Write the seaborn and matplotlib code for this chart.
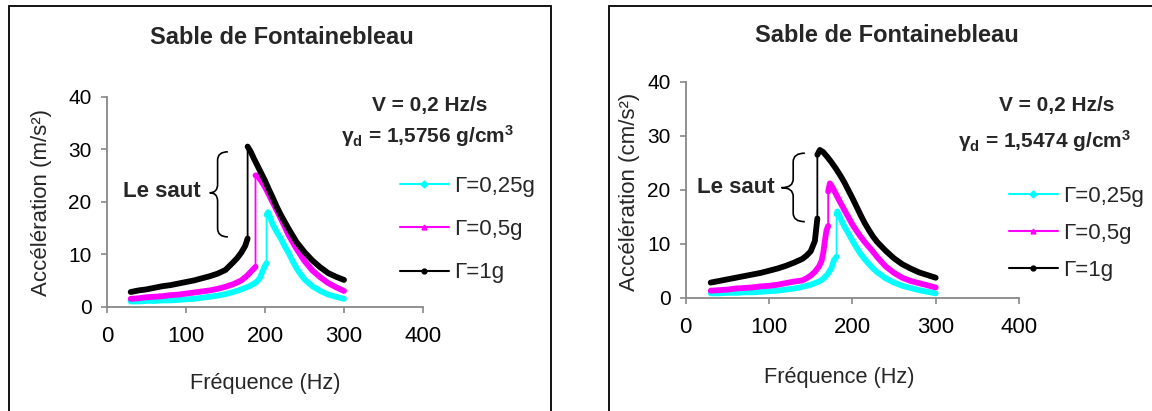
import matplotlib
matplotlib.use("Agg")
import matplotlib.pyplot as plt
import seaborn as sns
import numpy as np
import pandas as pd
from matplotlib.lines import Line2D
from matplotlib.patches import Rectangle, PathPatch
from matplotlib.path import Path

sns.set_theme(style="white")
plt.rcParams['font.family'] = ['Liberation Sans', 'DejaVu Sans']
plt.rcParams['mathtext.default'] = 'regular'

# ---------------- data ----------------
# Left panel  (m/s²),  γd = 1,5756
L_f_025 = [30, 40, 50, 60, 70, 80, 90, 100, 110, 120, 130, 140, 150, 160, 170, 180, 185, 190, 194, 197, 200, 202,
           202, 204, 207, 210, 215, 220, 225, 230, 235, 240, 245, 250, 260, 270, 280, 290, 300]
L_a_025 = [1.0, 1.0, 1.1, 1.1, 1.2, 1.2, 1.3, 1.4, 1.5, 1.7, 1.9, 2.1, 2.4, 2.8, 3.3, 3.9, 4.3, 4.8, 5.6, 6.8, 7.8, 8.3,
           17.5, 18.0, 16.8, 15.6, 14.2, 13.0, 11.5, 10.2, 8.7, 7.3, 6.2, 5.2, 3.9, 3.0, 2.3, 1.9, 1.5]

L_f_05 = [30, 40, 50, 60, 70, 80, 90, 100, 110, 120, 130, 140, 150, 160, 170, 178, 183, 188,
          188, 190, 195, 200, 205, 210, 215, 220, 230, 240, 250, 260, 270, 280, 290, 300]
L_a_05 = [1.5, 1.6, 1.8, 1.9, 2.0, 2.2, 2.3, 2.5, 2.7, 2.9, 3.1, 3.4, 3.8, 4.3, 5.0, 6.0, 6.8, 7.6,
          25.0, 25.0, 24.0, 22.8, 21.3, 19.8, 18.3, 16.8, 13.6, 11.0, 8.7, 6.9, 5.6, 4.5, 3.7, 3.0]

L_f_1 = [30, 40, 50, 60, 70, 80, 90, 100, 110, 120, 130, 140, 150, 160, 165, 170, 175, 178,
         178, 182, 186, 190, 195, 200, 205, 210, 215, 220, 230, 240, 250, 260, 270, 280, 290, 300]
L_a_1 = [2.8, 3.1, 3.3, 3.6, 3.9, 4.1, 4.4, 4.7, 5.0, 5.4, 5.8, 6.3, 7.0, 8.5, 9.3, 10.3, 11.6, 13.0,
         30.5, 29.5, 28.2, 27.0, 25.5, 24.0, 22.3, 20.7, 19.0, 17.5, 14.8, 12.3, 10.4, 8.8, 7.5, 6.4, 5.7, 5.1]

# Right panel (cm/s²),  γd = 1,5474
R_f_025 = [30, 40, 50, 60, 70, 80, 90, 100, 110, 120, 130, 140, 150, 160, 165, 170, 175, 178, 181,
           181, 182, 185, 190, 195, 200, 205, 210, 215, 220, 225, 230, 240, 250, 260, 270, 280, 290, 300]
R_a_025 = [0.8, 0.8, 0.9, 0.9, 1.0, 1.0, 1.1, 1.2, 1.3, 1.5, 1.7, 2.0, 2.4, 3.0, 3.5, 4.3, 5.5, 7.0, 7.6,
           15.5, 16.0, 15.0, 13.3, 12.0, 10.6, 9.3, 8.1, 7.1, 6.2, 5.4, 4.7, 3.6, 2.8, 2.2, 1.8, 1.4, 1.1, 0.8]

R_f_05 = [30, 40, 50, 60, 70, 80, 90, 100, 110, 120, 130, 140, 145, 150, 155, 160, 163, 165, 167, 169, 171,
          171, 173, 176, 180, 185, 190, 195, 200, 205, 210, 215, 220, 225, 230, 240, 250, 260, 270, 280, 290, 300]
R_a_05 = [1.3, 1.4, 1.5, 1.7, 1.8, 1.9, 2.1, 2.2, 2.4, 2.7, 3.0, 3.2, 3.6, 4.1, 4.8, 5.8, 6.8, 8.2, 10.5, 12.5, 13.3,
          19.7, 21.2, 20.5, 19.3, 17.8, 16.4, 15.0, 13.6, 12.4, 11.3, 10.3, 9.4, 8.5, 7.5, 5.8, 4.6, 3.7, 3.1, 2.7, 2.3, 1.9]

R_f_1 = [30, 40, 50, 60, 70, 80, 90, 100, 110, 120, 130, 140, 145, 150, 155, 158,
         158, 161, 165, 170, 175, 180, 185, 190, 195, 200, 205, 210, 215, 220, 225, 230, 240, 250, 260, 270, 280, 290, 300]
R_a_1 = [2.8, 3.1, 3.4, 3.7, 4.0, 4.3, 4.6, 5.0, 5.4, 5.9, 6.5, 7.2, 7.8, 8.6, 10.5, 14.7,
         26.5, 27.4, 27.0, 26.1, 25.1, 24.0, 22.8, 21.5, 20.0, 18.5, 16.9, 15.3, 13.8, 12.5, 11.3, 10.3, 8.7, 7.3, 6.2, 5.4, 4.7, 4.2, 3.7]

labels = ["Γ=0,25g", "Γ=0,5g", "Γ=1g"]
colors = ["#00FFFF", "#FF00FF", "#000000"]
markers = ["D", "^", "o"]
x_ticks = [0, 100, 200, 300, 400]
y_ticks = [0, 10, 20, 30, 40]
title = "Sable de Fontainebleau"
xlabel = "Fréquence (Hz)"
ylabels = ["Accélération (m/s²)", "Accélération (cm/s²)"]
gammas = ["1,5756", "1,5474"]

W, H = 1152, 411
fig = plt.figure(figsize=(W / 100, H / 100), dpi=100)
fig.patch.set_facecolor("white")

def fx(px):
    return px / W

def fy(py):
    return 1 - py / H

# frames around each chart
fig.add_artist(Rectangle((fx(9), -0.1), fx(551) - fx(9), fy(6) + 0.1, transform=fig.transFigure,
                         fill=False, ec="black", lw=1.3))
fig.add_artist(Rectangle((fx(609), -0.1), 0.6, fy(6) + 0.1, transform=fig.transFigure,
                         fill=False, ec="black", lw=1.3))

panels = [
    dict(rect=[fx(107), fy(306.7), fx(423) - fx(107), fy(96.7) - fy(306.7)],
         data=[(L_f_025, L_a_025), (L_f_05, L_a_05), (L_f_1, L_a_1)],
         title_xy=(282, 37), xl_xy=(265, 383), yl_xy=(42, 203),
         v_xy=(430, 105), g_xy=(428, 136), leg_xy=(400, 176), leg_sp=1.0,
         saut=(70, 21.9), brace=(153, 140, 130, 29.5, 21.7, 13.3)),
    dict(rect=[fx(685.7), fy(297.7), fx(1019) - fx(685.7), fy(82) - fy(297.7)],
         data=[(R_f_025, R_a_025), (R_f_05, R_a_05), (R_f_1, R_a_1)],
         title_xy=(887, 36), xl_xy=(839, 377), yl_xy=(630, 192),
         v_xy=(1057, 105), g_xy=(1045, 141), leg_xy=(1009, 186), leg_sp=0.72,
         saut=(60, 20.4), brace=(143, 129, 115, 26.8, 20.4, 14.1)),
]

for i, p in enumerate(panels):
    ax = fig.add_axes(p["rect"])
    ax.set_facecolor("none")
    for (f, a), c in zip(p["data"], colors):
        df = pd.DataFrame({"f": f, "a": a})
        # thin line for whole series (incl. the vertical jump)
        sns.lineplot(data=df, x="f", y="a", ax=ax, color=c, lw=1.3, estimator=None, sort=False)
        # thick dense-marker look for the two branches
        j = [k for k in range(1, len(f)) if f[k] == f[k - 1]][0]
        sns.lineplot(data=df.iloc[:j], x="f", y="a", ax=ax, color=c, lw=4.2, estimator=None, sort=False,
                     solid_capstyle="round", solid_joinstyle="round")
        sns.lineplot(data=df.iloc[j:], x="f", y="a", ax=ax, color=c, lw=4.2, estimator=None, sort=False,
                     solid_capstyle="round", solid_joinstyle="round")
    ax.set_xlim(0, 400)
    ax.set_ylim(0, 40)
    ax.set_xticks(x_ticks)
    ax.set_yticks(y_ticks)
    ax.set_xlabel("")
    ax.set_ylabel("")
    for s in ["top", "right"]:
        ax.spines[s].set_visible(False)
    for s in ["left", "bottom"]:
        ax.spines[s].set_color("#888888")
        ax.spines[s].set_linewidth(1.3)
    ax.tick_params(axis="both", direction="out", length=4, width=1.2, color="#888888",
                   labelcolor="black", left=True, bottom=True)
    ax.tick_params(axis="x", pad=10, labelsize=16)
    ax.tick_params(axis="y", pad=7, labelsize=15)

    # texts
    fig.text(fx(p["title_xy"][0]), fy(p["title_xy"][1]), title, ha="center", va="center",
             fontsize=17, fontweight="bold")
    fig.text(fx(p["xl_xy"][0]), fy(p["xl_xy"][1]), xlabel, ha="center", va="center", fontsize=15.7)
    fig.text(fx(p["yl_xy"][0]), fy(p["yl_xy"][1]), ylabels[i], ha="center", va="center",
             fontsize=16, rotation=90)
    fig.text(fx(p["v_xy"][0]), fy(p["v_xy"][1]), "V = 0,2 Hz/s", ha="center", va="center",
             fontsize=15, fontweight="bold")
    fig.text(fx(p["g_xy"][0]), fy(p["g_xy"][1]),
             "γ$_{d}$ = " + gammas[i] + " g/cm$^{3}$", ha="center", va="center",
             fontsize=15, fontweight="bold")

    # legend
    handles = [Line2D([], [], color=c, lw=1.5, marker=m, markersize=3.5) for c, m in zip(colors, markers)]
    ax.legend(handles, labels, loc="upper left", bbox_to_anchor=(fx(p["leg_xy"][0]), fy(p["leg_xy"][1])),
              bbox_transform=fig.transFigure, frameon=False, fontsize=16, handlelength=2.2,
              handletextpad=0.25, labelspacing=p["leg_sp"], borderpad=0, borderaxespad=0)

    # "Le saut" with curly brace
    ax.text(p["saut"][0], p["saut"][1], "Le saut", ha="center", va="center", fontsize=16,
            fontweight="bold")
    xr, xm, xl, yt, ym, yb = p["brace"]
    d = 1.6
    verts = [(xr, yt), (xm, yt), (xm, yt - d),
             (xm, ym + d), (xm, ym), (xl, ym),
             (xm, ym), (xm, ym - d),
             (xm, yb + d), (xm, yb), (xr, yb)]
    codes = [Path.MOVETO, Path.CURVE3, Path.CURVE3,
             Path.LINETO, Path.CURVE3, Path.CURVE3,
             Path.CURVE3, Path.CURVE3,
             Path.LINETO, Path.CURVE3, Path.CURVE3]
    ax.add_patch(PathPatch(Path(verts, codes), fill=False, ec="black", lw=1.2, clip_on=False))

fig.savefig("out.png", dpi=100, facecolor="white")
